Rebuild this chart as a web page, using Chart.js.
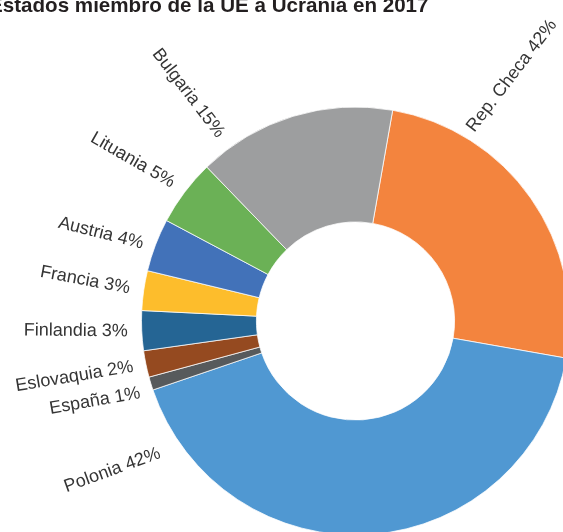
<!DOCTYPE html>
<html lang="es">
<head>
<meta charset="UTF-8">
<title>Estados miembro de la UE a Ucrania en 2017</title>
<script src="https://cdn.jsdelivr.net/npm/chart.js"></script>
<style>
  html, body { margin: 0; padding: 0; overflow: hidden; background: #fff; width: 563px; height: 532px; }
  #wrap { position: absolute; left: 0; top: 0; width: 600px; height: 560px; }
</style>
</head>
<body>
<div id="wrap"><canvas id="dona"></canvas></div>
<script>
const titulo = 'Estados miembro de la UE a Ucrania en 2017';
const paises = ['Rep. Checa', 'Polonia', 'España', 'Eslovaquia', 'Finlandia', 'Francia', 'Austria', 'Lituania', 'Bulgaria'];
const valores = [25, 42, 1, 2, 3, 3, 4, 5, 15];
const etiquetasPct = ['42%', '42%', '1%', '2%', '3%', '3%', '4%', '5%', '15%'];
const colores = ['#f3843e', '#5098d2', '#575a5c', '#954a20', '#256594', '#fdbd2c', '#4272b9', '#6bb156', '#9d9e9f'];

// where each label sits: clock angle (null = middle of its slice), gap past the ring, tilt of the text
const etiqAngulo = [31, 236, 251.5, null, null, null, 290, null, 324];
const etiqSeparacion = [9, 22, 13, 13, 14, 14, 12, 14, 15];
const etiqGiro = [-52.5, -20, -10, -9.5, 0.5, 10.5, 14, 30, 52.5];

const etiquetas = {
    id: 'etiquetas',
    afterDatasetsDraw(chart) {
        const ctx = chart.ctx;
        const arcs = chart.getDatasetMeta(0).data;
        ctx.save();
        ctx.font = '18px "Liberation Sans", Arial, sans-serif';
        ctx.fillStyle = '#353535';
        ctx.textBaseline = 'middle';
        arcs.forEach((arc, i) => {
            const p = arc.getProps(['x', 'y', 'startAngle', 'endAngle', 'outerRadius'], true);
            const a = etiqAngulo[i] === null ? (p.startAngle + p.endAngle) / 2 : (etiqAngulo[i] - 90) * Math.PI / 180;
            const r = p.outerRadius + etiqSeparacion[i];
            ctx.save();
            ctx.translate(p.x + Math.cos(a) * r, p.y + Math.sin(a) * r);
            ctx.rotate(etiqGiro[i] * Math.PI / 180);
            ctx.textAlign = Math.cos(a) > 0 ? 'left' : 'right';
            ctx.fillText(paises[i] + ' ' + etiquetasPct[i], 0, 0);
            ctx.restore();
        });
        ctx.restore();
    }
};

const cabecera = {
    id: 'cabecera',
    afterDraw(chart) {
        const ctx = chart.ctx;
        ctx.save();
        ctx.font = 'bold 20.6px "Liberation Sans", Arial, sans-serif';
        ctx.fillStyle = '#231f20';
        ctx.textAlign = 'right';
        ctx.textBaseline = 'alphabetic';
        ctx.fillText(titulo, 428.5, 11.5);
        ctx.restore();
    }
};

new Chart(document.getElementById('dona'), {
    type: 'doughnut',
    data: {
        labels: paises,
        datasets: [{
            data: valores,
            backgroundColor: colores,
            borderColor: 'rgba(255,255,255,0.75)',
            borderWidth: 1
        }]
    },
    options: {
        responsive: true,
        maintainAspectRatio: false,
        animation: false,
        rotation: 10,
        cutout: '46.3%',
        layout: { padding: { left: 141, right: 30, top: 106.5, bottom: 24.5 } },
        plugins: {
            legend: { display: false },
            tooltip: { enabled: false }
        }
    },
    plugins: [etiquetas, cabecera]
});
</script>
</body>
</html>
